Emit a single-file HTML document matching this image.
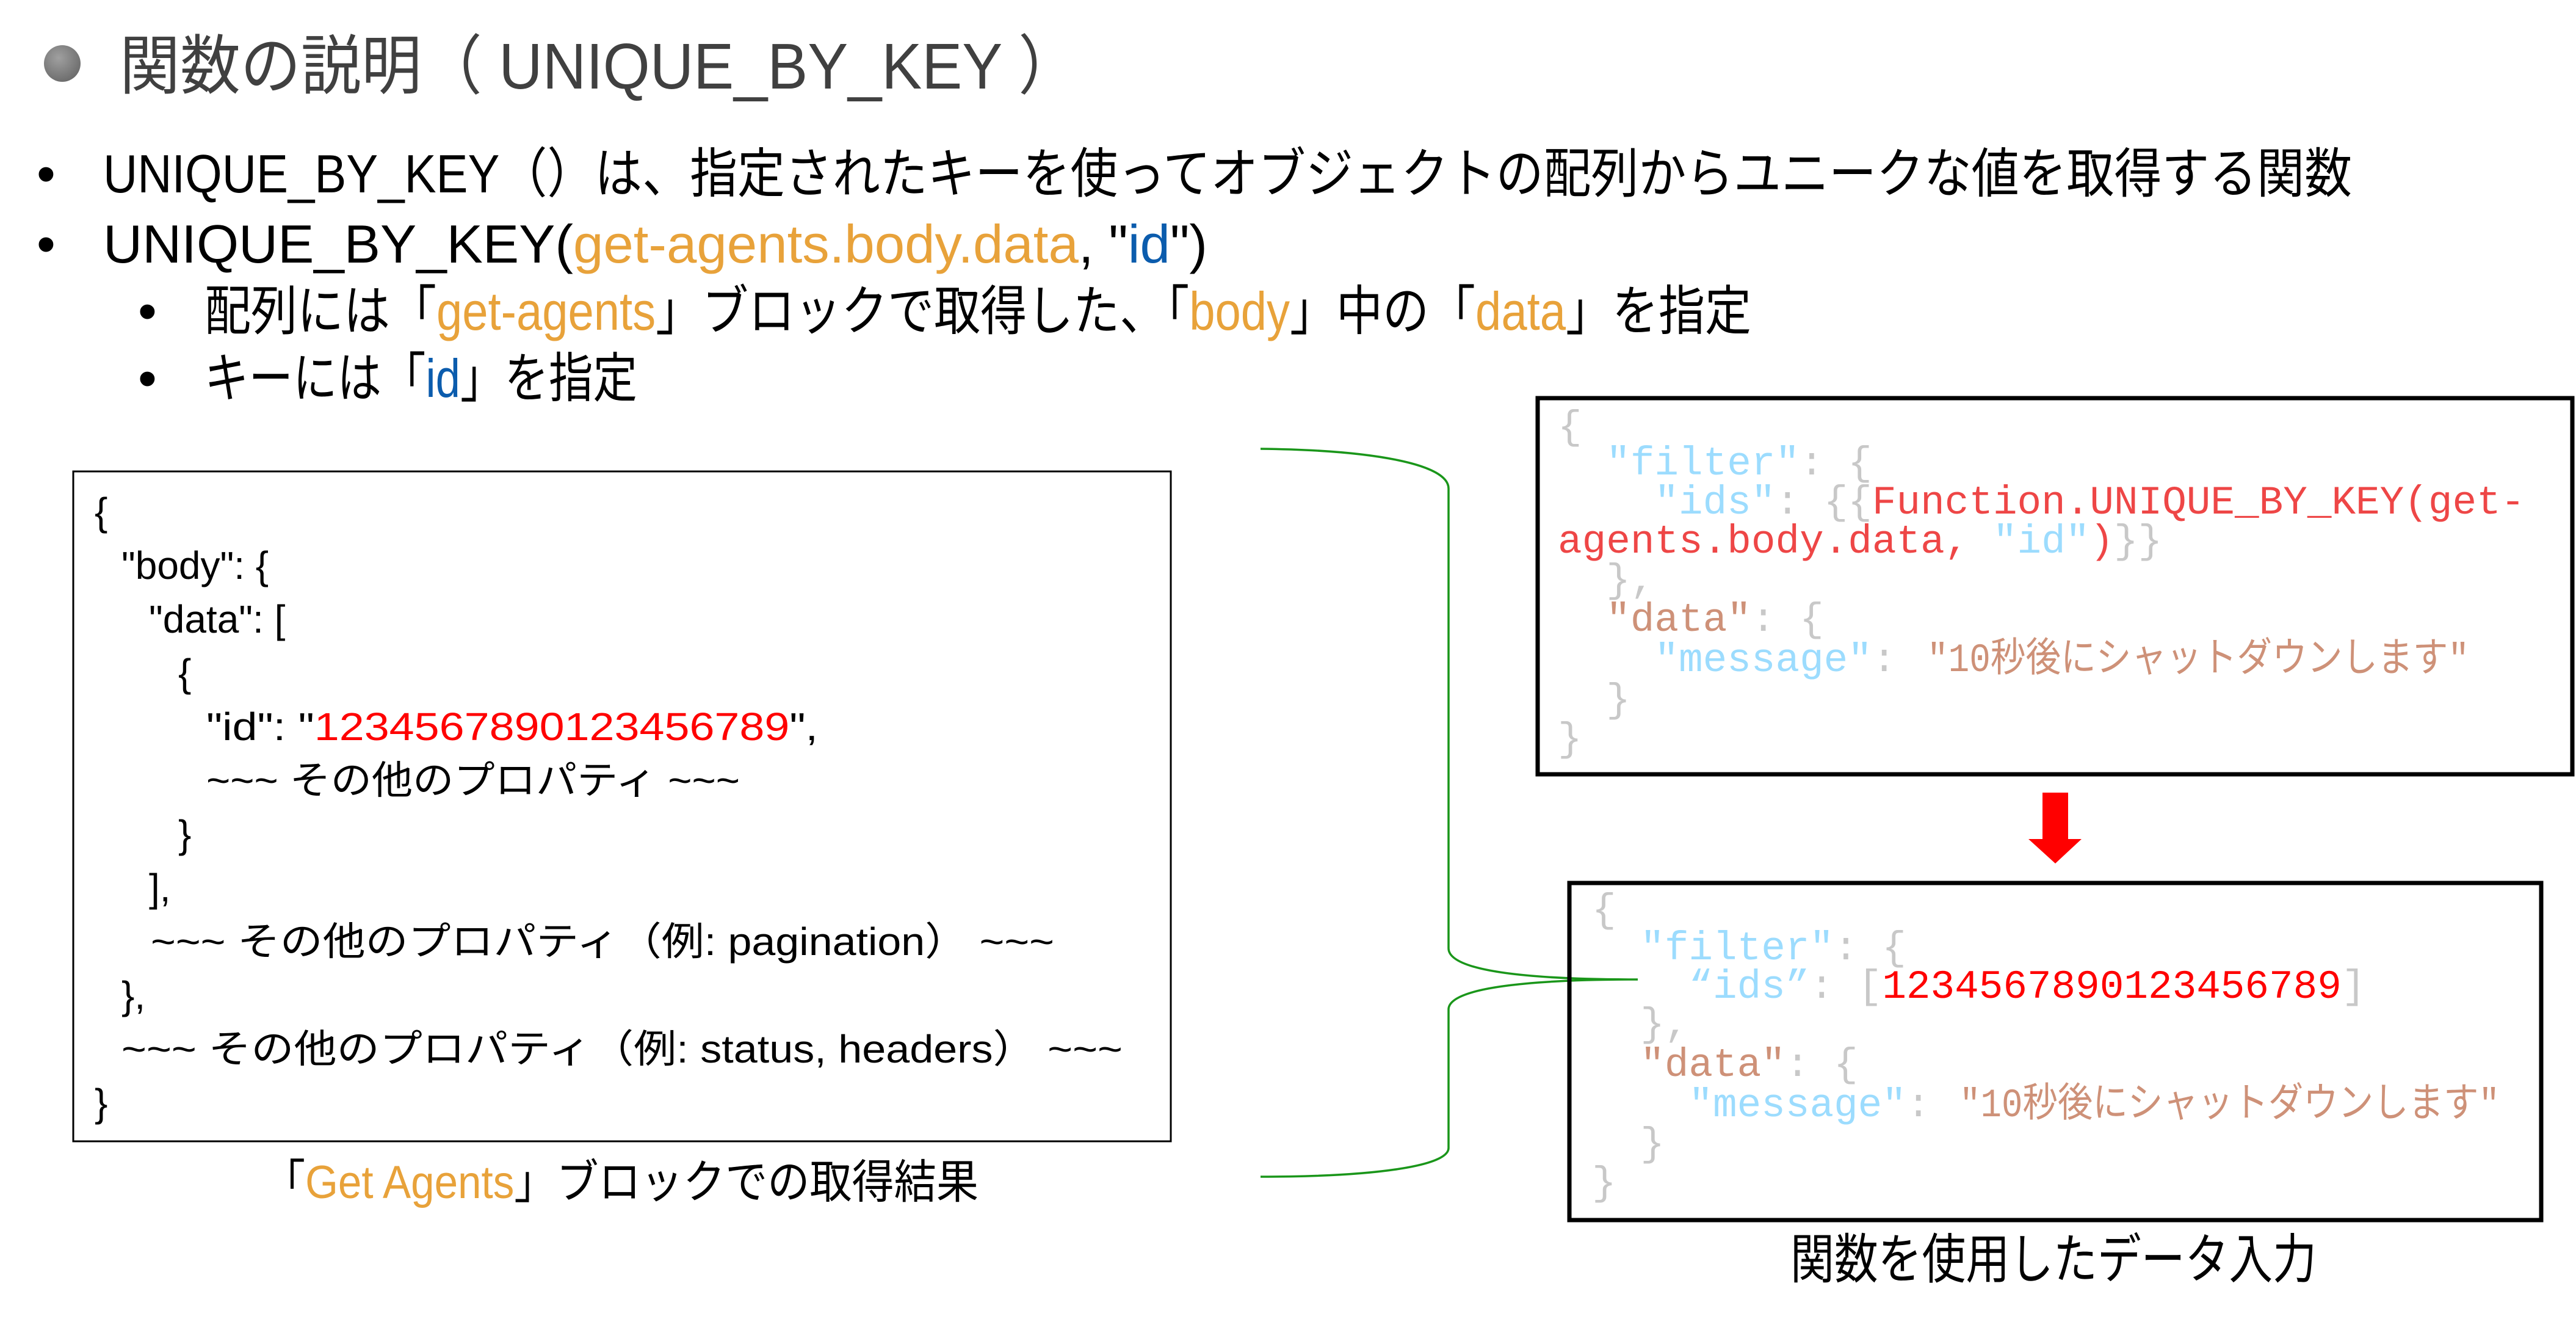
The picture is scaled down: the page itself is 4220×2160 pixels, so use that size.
<!DOCTYPE html>
<html><head><meta charset="utf-8"><style>
html,body{margin:0;padding:0;background:#fff;}
svg{display:block;}
text{font-family:"Liberation Sans","Noto Sans CJK JP",sans-serif;}
.m{font-family:"Liberation Mono","Noto Sans CJK JP",monospace;font-size:66px;}
</style></head><body>
<svg width="4220" height="2160" viewBox="0 0 4220 2160" xmlns="http://www.w3.org/2000/svg">
<defs><radialGradient id="g" cx="0.4" cy="0.35" r="0.7"><stop offset="0" stop-color="#a0a0a0"/><stop offset="1" stop-color="#6a6a6a"/></radialGradient></defs>
<circle cx="102" cy="104" r="30" fill="url(#g)"/>
<text x="196" y="145" font-size="106" fill="#404040" textLength="1571" lengthAdjust="spacingAndGlyphs">関数の説明（ UNIQUE_BY_KEY ）</text>

<g font-size="88" fill="#000">
<text x="60" y="315">•</text>
<text x="169" y="315" textLength="3684" lengthAdjust="spacingAndGlyphs">UNIQUE_BY_KEY（）は、指定されたキーを使ってオブジェクトの配列からユニークな値を取得する関数</text>
<text x="60" y="430">•</text>
<text x="169" y="430" textLength="1809" lengthAdjust="spacingAndGlyphs">UNIQUE_BY_KEY(<tspan fill="#e8a23a">get-agents.body.data</tspan>, "<tspan fill="#0b5cad">id</tspan>")</text>
<text x="226" y="540">•</text>
<text x="335" y="540" textLength="2534" lengthAdjust="spacingAndGlyphs">配列には「<tspan fill="#e8a23a">get-agents</tspan>」ブロックで取得した、「<tspan fill="#e8a23a">body</tspan>」中の「<tspan fill="#e8a23a">data</tspan>」を指定</text>
<text x="226" y="650">•</text>
<text x="335" y="650" textLength="709" lengthAdjust="spacingAndGlyphs">キーには「<tspan fill="#0b5cad">id</tspan>」を指定</text>
</g>

<!-- left box -->
<rect x="120" y="772" width="1798" height="1097" fill="none" stroke="#000" stroke-width="3"/>
<g font-size="64" fill="#000">
<text x="155" y="860">{</text>
<text x="199" y="948">"body": {</text>
<text x="244" y="1036">"data": [</text>
<text x="292" y="1124">{</text>
<text x="338" y="1212" textLength="1002" lengthAdjust="spacingAndGlyphs">"id": "<tspan fill="#ff0000">1234567890123456789</tspan>",</text>
<text x="338" y="1300" textLength="874" lengthAdjust="spacingAndGlyphs">~~~ その他のプロパティ ~~~</text>
<text x="292" y="1388">}</text>
<text x="244" y="1476">],</text>
<text x="247" y="1564" textLength="1480" lengthAdjust="spacingAndGlyphs">~~~ その他のプロパティ（例: pagination） ~~~</text>
<text x="199" y="1652">},</text>
<text x="199" y="1740" textLength="1640" lengthAdjust="spacingAndGlyphs">~~~ その他のプロパティ（例: status, headers） ~~~</text>
<text x="155" y="1828">}</text>
</g>
<text x="431" y="1962" font-size="76" fill="#000" textLength="1172" lengthAdjust="spacingAndGlyphs">「<tspan fill="#e8a23a">Get Agents</tspan>」ブロックでの取得結果</text>

<!-- bracket -->
<path d="M2065 735 C2250 737 2373 760 2373 800 L2373 1553 C2373 1590 2500 1604 2683 1604 M2683 1604 C2500 1604 2373 1618 2373 1653 L2373 1880 C2373 1910 2250 1927 2065 1927" fill="none" stroke="#1a961a" stroke-width="3.5"/>

<!-- right top box -->
<rect x="2519" y="652" width="1695" height="616" fill="none" stroke="#000" stroke-width="7"/>
<g class="m" fill="#c8c8c8">
<text x="2552" y="718" class="m">{</text>
<text x="2552" y="777" class="m" xml:space="preserve">  <tspan fill="#9cdcfe">"filter"</tspan>: {</text>
<text x="2552" y="841" class="m" xml:space="preserve">    <tspan fill="#9cdcfe">"ids"</tspan>: {{<tspan fill="#ee4646">Function.UNIQUE_BY_KEY(get-</tspan></text>
<text x="2552" y="905" class="m" xml:space="preserve"><tspan fill="#ee4646">agents.body.data, </tspan><tspan fill="#9cdcfe">"id"</tspan><tspan fill="#ee4646">)</tspan>}}</text>
<text x="2552" y="969" class="m" xml:space="preserve">  },</text>
<text x="2552" y="1033" class="m" xml:space="preserve">  <tspan fill="#ce9178">"data"</tspan>: {</text>
<text x="2552" y="1099" class="m" xml:space="preserve">    <tspan fill="#9cdcfe">"message"</tspan>: </text>
<text x="3157" y="1099" class="m" fill="#ce9178" textLength="888" lengthAdjust="spacingAndGlyphs">"10秒後にシャットダウンします"</text>
<text x="2552" y="1165" class="m" xml:space="preserve">  }</text>
<text x="2552" y="1229" class="m">}</text>
</g>

<!-- arrow -->
<path d="M3346 1298 H3388 V1374 H3410 L3367 1414 L3323 1374 H3346 Z" fill="#ff0000"/>

<!-- right bottom box -->
<rect x="2571" y="1446" width="1592" height="552" fill="none" stroke="#000" stroke-width="7"/>
<g fill="#c8c8c8">
<text x="2608" y="1509" class="m">{</text>
<text x="2608" y="1571" class="m" xml:space="preserve">  <tspan fill="#9cdcfe">"filter"</tspan>: {</text>
<text x="2608" y="1634" class="m" xml:space="preserve">    <tspan fill="#9cdcfe">“ids”</tspan>: [<tspan fill="#ff0000">1234567890123456789</tspan>]</text>
<text x="2608" y="1696" class="m" xml:space="preserve">  },</text>
<text x="2608" y="1762" class="m" xml:space="preserve">  <tspan fill="#ce9178">"data"</tspan>: {</text>
<text x="2608" y="1828" class="m" xml:space="preserve">    <tspan fill="#9cdcfe">"message"</tspan>: </text>
<text x="3210" y="1828" class="m" fill="#ce9178" textLength="885" lengthAdjust="spacingAndGlyphs">"10秒後にシャットダウンします"</text>
<text x="2608" y="1892" class="m" xml:space="preserve">  }</text>
<text x="2608" y="1956" class="m">}</text>
</g>
<text x="2933" y="2093" font-size="88" fill="#000" textLength="862" lengthAdjust="spacingAndGlyphs">関数を使用したデータ入力</text>
</svg>
</body></html>
